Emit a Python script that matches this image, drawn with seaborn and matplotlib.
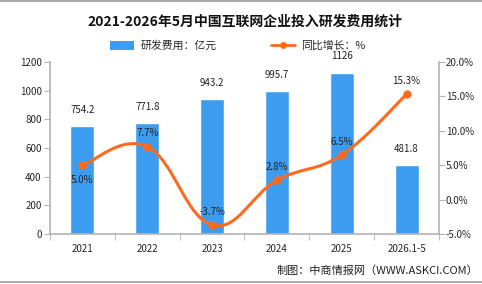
import numpy as np
import pandas as pd
import matplotlib
matplotlib.use("Agg")
import matplotlib.pyplot as plt
from matplotlib.path import Path
from matplotlib.patches import PathPatch, Patch
from matplotlib.lines import Line2D
import seaborn as sns

categories = ["2021", "2022", "2023", "2024", "2025", "2026.1-5"]
rd_cost = [754.2, 771.8, 943.2, 995.7, 1126, 481.8]
yoy_growth = [5.0, 7.7, -3.7, 2.8, 6.5, 15.3]
bar_labels = ["754.2", "771.8", "943.2", "995.7", "1126", "481.8"]
line_labels = ["5.0%", "7.7%", "-3.7%", "2.8%", "6.5%", "15.3%"]
left_ticks = [0, 200, 400, 600, 800, 1000, 1200]
right_ticks = [-5, 0, 5, 10, 15, 20]

sns.set_style("white")
plt.rcParams["font.family"] = ["Noto Sans CJK SC", "DejaVu Sans"]

BAR = "#3c9cf0"
LINE = "#ff6a1e"
GRAY = "#b3b3b3"

fig = plt.figure(figsize=(4.82, 2.84), dpi=100)
ax = fig.add_axes([50 / 482, 1 - 234 / 284, 389 / 482, 172 / 284])

df = pd.DataFrame({"cat": categories, "val": rd_cost})
sns.barplot(data=df, x="cat", y="val", color=BAR, width=0.37, ax=ax,
            saturation=1, zorder=2)
ax.set_xlim(-0.5, 5.5)
ax.set_ylim(0, 1200)
ax.set_yticks(left_ticks)
ax.set_xlabel("")
ax.set_ylabel("")
for s in ["top", "right"]:
    ax.spines[s].set_visible(False)
for s in ["left", "bottom"]:
    ax.spines[s].set_color(GRAY)
    ax.spines[s].set_linewidth(1.2)
ax.tick_params(axis="y", length=4, color=GRAY, labelsize=7, pad=2, direction="out", left=True)
ax.tick_params(axis="x", which="major", length=0, labelsize=7, pad=7)
ax.set_xticks(np.arange(-0.5, 6.0, 1.0), minor=True)
ax.tick_params(axis="x", which="minor", length=4, color=GRAY, direction="out", bottom=True)

for i, (v, t) in enumerate(zip(rd_cost, bar_labels)):
    ax.annotate(t, (i, v), xytext=(0, 8), textcoords="offset points",
                ha="center", va="bottom", fontsize=7, color="#222222")

ax2 = ax.twinx()
ax2.set_ylim(-5, 20)
ax2.set_yticks(right_ticks)
ax2.set_yticklabels([f"{t:.1f}%" for t in right_ticks])
for s in ["top", "left", "bottom"]:
    ax2.spines[s].set_visible(False)
ax2.spines["right"].set_color(GRAY)
ax2.spines["right"].set_linewidth(1.2)
ax2.tick_params(axis="y", length=4, color=GRAY, labelsize=7, pad=1, direction="out", right=True)

# smooth curve (Catmull-Rom -> cubic Bezier) through the data points
xs = np.arange(len(yoy_growth), dtype=float)
ys = np.array(yoy_growth, dtype=float)
pts = np.column_stack([xs, ys])
k = 0.2
verts = [tuple(pts[0])]
codes = [Path.MOVETO]
n = len(pts)
for i in range(n - 1):
    p0 = pts[max(i - 1, 0)]
    p1 = pts[i]
    p2 = pts[i + 1]
    p3 = pts[min(i + 2, n - 1)]
    c1 = p1 + (p2 - p0) * k
    c2 = p2 - (p3 - p1) * k
    verts += [tuple(c1), tuple(c2), tuple(p2)]
    codes += [Path.CURVE4] * 3
path = Path(verts, codes)
ax2.add_patch(PathPatch(path, facecolor="none", edgecolor=LINE, lw=2.2, zorder=3))
sns.scatterplot(x=xs, y=ys, ax=ax2, color=LINE, s=30, edgecolor=LINE, zorder=4, legend=False)

below = [True, False, False, False, False, False]
for i, (v, t) in enumerate(zip(yoy_growth, line_labels)):
    off = -7 if below[i] else 6
    ax2.annotate(t, (i, v), xytext=(0, off), textcoords="offset points",
                 ha="center", va="top" if below[i] else "bottom",
                 fontsize=7, color="#222222")

# title
fig.text(245 / 482, 1 - 22 / 284, "2021-2026年5月中国互联网企业投入研发费用统计",
         ha="center", va="center", fontsize=10, fontweight="bold", color="#111111")

# legend
handles = [Patch(facecolor=BAR, edgecolor="none"),
           Line2D([0], [0], color=LINE, lw=2, marker="o", markersize=4)]
fig.legend(handles, ["研发费用：亿元", "同比增长：%"], loc="center",
           bbox_to_anchor=(238 / 482, 1 - 46 / 284), ncol=2, frameon=False,
           fontsize=7.8, handlelength=2.2, handleheight=0.8, columnspacing=5,
           handletextpad=0.6)

# source
fig.text(478 / 482, 1 - 271 / 284, "制图：中商情报网（WWW.ASKCI.COM）",
         ha="right", va="center", fontsize=8, color="#222222")

# frame lines
fig.add_artist(Line2D([0, 1], [0.998, 0.998], color="#9a9a9a", lw=1.2, transform=fig.transFigure))
fig.add_artist(Line2D([0, 1], [1 - 282 / 284, 1 - 282 / 284], color="#9a9a9a", lw=1.2, transform=fig.transFigure))

fig.savefig("out.png", dpi=100)
